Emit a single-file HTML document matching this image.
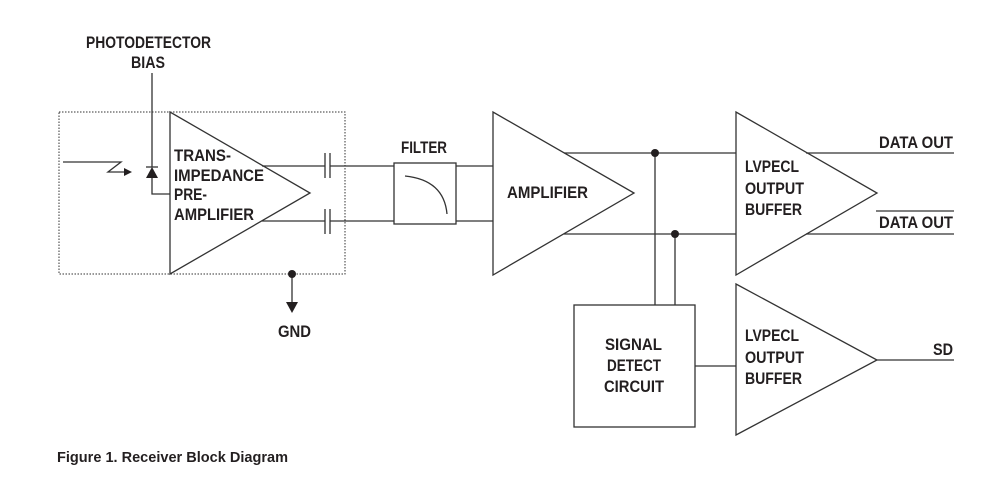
<!DOCTYPE html>
<html><head><meta charset="utf-8"><style>
html,body{margin:0;padding:0;background:#fff;}
svg text{font-family:"Liberation Sans Narrow","Liberation Sans",sans-serif;font-weight:bold;font-size:16.5px;fill:#231f20;}
</style></head><body>
<svg width="989" height="493" viewBox="0 0 989 493" xmlns="http://www.w3.org/2000/svg">
<g stroke="#333" stroke-width="1.3" fill="none">
<rect x="59" y="112" width="286" height="162" stroke-dasharray="1.5,1.5" stroke-width="1"/>
<polygon points="170,112 170,274 310,193" fill="#fff"/>
<line x1="152" y1="73" x2="152" y2="167"/>
<polyline points="152,178 152,194 170,194"/>
<line x1="146" y1="167" x2="158" y2="167"/>
<polyline points="63,162 121,162 108,172 128,172"/>
<line x1="262" y1="166" x2="325" y2="166"/>
<line x1="330" y1="166" x2="394" y2="166"/>
<line x1="262" y1="221" x2="325" y2="221"/>
<line x1="330" y1="221" x2="394" y2="221"/>
<line x1="325" y1="153" x2="325" y2="178"/><line x1="330" y1="153" x2="330" y2="178"/>
<line x1="325" y1="209" x2="325" y2="234"/><line x1="330" y1="209" x2="330" y2="234"/>
<rect x="394" y="163" width="62" height="61"/>
<path d="M405,176 Q444,180 447,214"/>
<line x1="456" y1="166" x2="493" y2="166"/>
<line x1="456" y1="221" x2="493" y2="221"/>
<line x1="292" y1="274" x2="292" y2="302"/>
<polygon points="493,112 493,275 634,193"/>
<line x1="564" y1="153" x2="736" y2="153"/>
<line x1="564" y1="234" x2="736" y2="234"/>
<line x1="655" y1="153" x2="655" y2="305"/>
<line x1="675" y1="234" x2="675" y2="305"/>
<rect x="574" y="305" width="121" height="122"/>
<line x1="695" y1="366" x2="736" y2="366"/>
<polygon points="736,112 736,275 877,193"/>
<line x1="806" y1="153" x2="954" y2="153"/>
<line x1="806" y1="234" x2="954" y2="234"/>
<line x1="876" y1="211" x2="954" y2="211"/>
<polygon points="736,284 736,435 877,360"/>
<line x1="877" y1="360" x2="954" y2="360"/>
</g>
<g fill="#231f20">
<polygon points="146,178 158,178 152,167"/>
<polygon points="124,168 132,172 124,176"/>
<circle cx="292" cy="274" r="4"/>
<polygon points="286,302 298,302 292,313"/>
<circle cx="655" cy="153" r="4"/>
<circle cx="675" cy="234" r="4"/>
</g>
<g>
<text x="86" y="48" textLength="125" lengthAdjust="spacingAndGlyphs">PHOTODETECTOR</text>
<text x="131" y="68" textLength="34" lengthAdjust="spacingAndGlyphs">BIAS</text>
<text x="174" y="161" textLength="57" lengthAdjust="spacingAndGlyphs">TRANS-</text>
<text x="174" y="181" textLength="90" lengthAdjust="spacingAndGlyphs">IMPEDANCE</text>
<text x="174" y="200" textLength="33" lengthAdjust="spacingAndGlyphs">PRE-</text>
<text x="174" y="220" textLength="80" lengthAdjust="spacingAndGlyphs">AMPLIFIER</text>
<text x="401" y="153" textLength="46" lengthAdjust="spacingAndGlyphs">FILTER</text>
<text x="278" y="337" textLength="33" lengthAdjust="spacingAndGlyphs">GND</text>
<text x="507" y="198" textLength="81" lengthAdjust="spacingAndGlyphs">AMPLIFIER</text>
<text x="745" y="172" textLength="54" lengthAdjust="spacingAndGlyphs">LVPECL</text>
<text x="745" y="194" textLength="59" lengthAdjust="spacingAndGlyphs">OUTPUT</text>
<text x="745" y="215" textLength="57" lengthAdjust="spacingAndGlyphs">BUFFER</text>
<text x="745" y="341" textLength="54" lengthAdjust="spacingAndGlyphs">LVPECL</text>
<text x="745" y="363" textLength="59" lengthAdjust="spacingAndGlyphs">OUTPUT</text>
<text x="745" y="384" textLength="57" lengthAdjust="spacingAndGlyphs">BUFFER</text>
<text x="605" y="350" textLength="57" lengthAdjust="spacingAndGlyphs">SIGNAL</text>
<text x="607" y="371" textLength="54" lengthAdjust="spacingAndGlyphs">DETECT</text>
<text x="604" y="392" textLength="60" lengthAdjust="spacingAndGlyphs">CIRCUIT</text>
<text x="879" y="148" textLength="74" lengthAdjust="spacingAndGlyphs">DATA OUT</text>
<text x="879" y="228" textLength="74" lengthAdjust="spacingAndGlyphs">DATA OUT</text>
<text x="933" y="355" textLength="20" lengthAdjust="spacingAndGlyphs">SD</text>
<text x="57" y="462" style="font-size:15px" textLength="231" lengthAdjust="spacingAndGlyphs">Figure 1.  Receiver Block Diagram</text>
</g>
</svg>
</body></html>
